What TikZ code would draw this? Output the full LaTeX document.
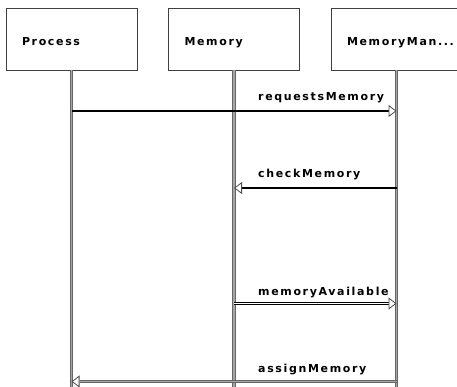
\documentclass[tikz,border=0pt]{standalone}
\usepackage{fontspec}
\setmainfont{Liberation Sans}
\newfontfamily\seqfont[LetterSpace=15]{DejaVu Sans Bold}
\usetikzlibrary{arrows.meta}

\tikzset{
  seqtext/.style={font=\seqfont\fontsize{11pt}{13pt}\selectfont, inner sep=0pt},
  headbox/.style={draw=black!75, line width=0.8pt, fill=white,
    minimum width=131pt, minimum height=62pt, inner xsep=16pt, inner ysep=0pt,
    text width=99pt, align=left, text height=14pt, text depth=0pt,
    font=\seqfont\fontsize{11pt}{13pt}\selectfont},
  lifeline/.style={draw=black!60, line width=1pt, double=black!35, double distance=1.4pt},
  opentip/.style={-{Triangle[open, length=8pt, width=12pt, line width=0.8pt, fill=white]}},
  msgsolid/.style={draw=black, line width=1.8pt},
  msgdouble/.style={draw=black, line width=1pt, double=white, double distance=1.2pt},
  msggray/.style={lifeline},
  tipline/.style={opentip, draw=black!70, line width=0.8pt},
}

\begin{document}
\begin{tikzpicture}[x=1pt, y=-1pt]
  \useasboundingbox (0,0) rectangle (457,387);
  \clip (0,0) rectangle (457,387);

  % participants
  \node[headbox] (proc) at (71.5,39) {Process};
  \node[headbox] (mem)  at (234,39)  {Memory};
  \node[headbox] (mgr)  at (396.5,39) {MemoryMan...};

  % lifeline ends below the page edge
  \coordinate (procEnd) at (proc.south |- 0,392);
  \coordinate (memEnd)  at (mem.south  |- 0,392);
  \coordinate (mgrEnd)  at (mgr.south  |- 0,392);

  \draw[lifeline] (proc.south) -- (procEnd);
  \draw[lifeline] (mem.south)  -- (memEnd);
  \draw[lifeline] (mgr.south)  -- (mgrEnd);

  % message anchor points on the lifelines
  \coordinate (m1a) at (proc.south |- 0,111);
  \coordinate (m1b) at (mgr.south  |- 0,111);
  \coordinate (m2a) at (mgr.south  |- 0,188);
  \coordinate (m2b) at (mem.south  |- 0,188);
  \coordinate (m3a) at (mem.south  |- 0,303.5);
  \coordinate (m3b) at (mgr.south  |- 0,303.5);
  \coordinate (m4a) at (mgr.south  |- 0,381.5);
  \coordinate (m4b) at (proc.south |- 0,381.5);

  % requestsMemory
  \draw[msgsolid] (m1a) -- ([xshift=-8pt]m1b);
  \draw[tipline] ([xshift=-1pt]m1b) -- (m1b);
  \node[seqtext, anchor=base west] (l1) at (258,100.5) {requestsMemory};

  % checkMemory
  \draw[msgsolid] (m2a) -- ([xshift=8pt]m2b);
  \draw[tipline] ([xshift=1pt]m2b) -- (m2b);
  \node[seqtext, anchor=base west] (l2) at (258,178) {checkMemory};

  % memoryAvailable
  \draw[msgdouble] (m3a) -- ([xshift=-8pt]m3b);
  \draw[tipline] ([xshift=-1pt]m3b) -- (m3b);
  \node[seqtext, anchor=base west] (l3) at (258,295) {memoryAvailable};

  % assignMemory
  \draw[msggray] (m4a) -- ([xshift=8pt]m4b);
  \draw[tipline] ([xshift=1pt]m4b) -- (m4b);
  \node[seqtext, anchor=base west] (l4) at (258,372) {assignMemory};
\end{tikzpicture}
\end{document}
